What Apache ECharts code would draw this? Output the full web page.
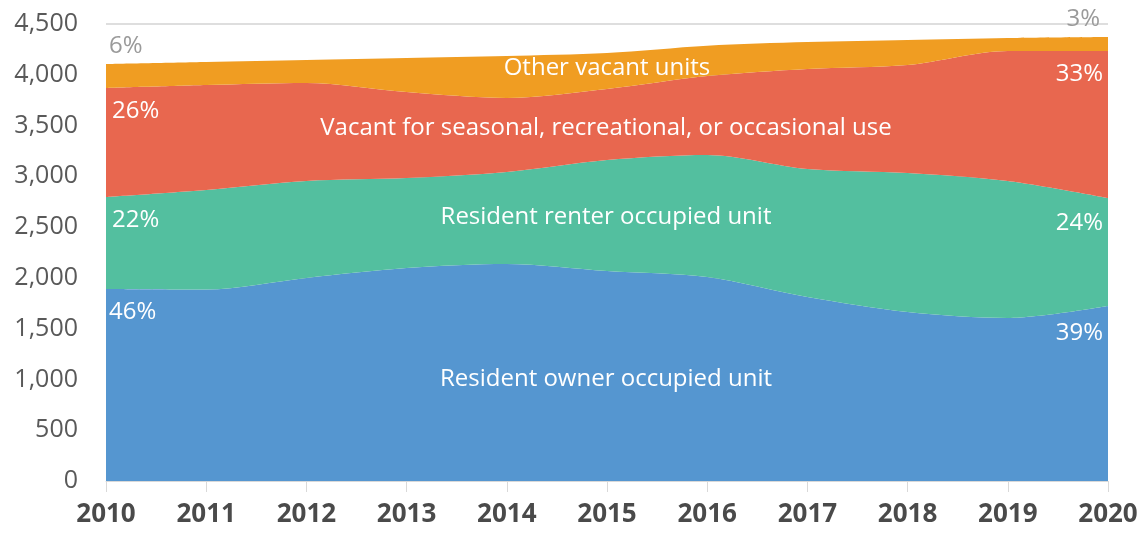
<!DOCTYPE html>
<html>
<head>
<meta charset="utf-8">
<script src="https://cdn.jsdelivr.net/npm/echarts@6/dist/echarts.min.js"></script>
<style>
  html, body { margin: 0; padding: 0; background: #fff; }
  #chart { width: 1146px; height: 536px; }
</style>
</head>
<body>
<div id="chart"></div>
<script>
const years = ["2010", "2011", "2012", "2013", "2014", "2015", "2016", "2017", "2018", "2019", "2020"];
const ownerUnits = [1890, 1885, 2000, 2097, 2137, 2068, 2009, 1812, 1664, 1605, 1723];
const renterUnits = [906, 980, 954, 886, 906, 1093, 1201, 1260, 1369, 1349, 1063];
const seasonalUnits = [1074, 1034, 965, 847, 728, 699, 778, 985, 1063, 1280, 1448];
const otherUnits = [236, 227, 226, 335, 414, 354, 298, 265, 246, 128, 138];

const seriesNames = [
  "Resident owner occupied unit",
  "Resident renter occupied unit",
  "Vacant for seasonal, recreational, or occasional use",
  "Other vacant units",
];
const colors = ["#5596d0", "#53bf9f", "#e8674f", "#f09d22"];

const startPct = ["46%", "22%", "26%", "6%"];
const endPct = ["39%", "24%", "33%", "3%"];

const chart = echarts.init(document.getElementById("chart"));

function areaSeries(name, data, color) {
  return {
    name: name,
    type: "line",
    stack: "total",
    smooth: 0.3,
    symbol: "none",
    lineStyle: { width: 0 },
    areaStyle: { color: color, opacity: 1 },
    data: data,
  };
}

const labelFont = "24px 'Open Sans'";
const pctFont = "24px 'Open Sans'";

// text placed at (x, y), vertically centred
function label(str, x, y, align, fill, font) {
  return {
    type: "text",
    z: 100,
    x: x,
    y: y,
    style: { text: str, fill: fill, font: font, textAlign: align, textVerticalAlign: "middle" },
  };
}

const graphics = [
  // series names
  label(seriesNames[3], 607, 68, "center", "#fff", labelFont),
  label(seriesNames[2], 606, 128, "center", "#fff", labelFont),
  label(seriesNames[1], 606, 217, "center", "#fff", labelFont),
  label(seriesNames[0], 606, 379, "center", "#fff", labelFont),
  // start percentages
  label(startPct[3], 109, 46, "left", "#9a9a9a", pctFont),
  label(startPct[2], 112, 111, "left", "#fff", pctFont),
  label(startPct[1], 112, 220, "left", "#fff", pctFont),
  label(startPct[0], 109, 312, "left", "#fff", pctFont),
  // end percentages
  label(endPct[3], 1100, 19, "right", "#9a9a9a", pctFont),
  label(endPct[2], 1103, 74, "right", "#fff", pctFont),
  label(endPct[1], 1103, 223, "right", "#fff", pctFont),
  label(endPct[0], 1103, 333, "right", "#fff", pctFont),
];

const option = {
  animation: false,
  backgroundColor: "#ffffff",
  grid: {
    left: 106,
    right: 38,
    top: 24,
    bottom: 55,
  },
  xAxis: {
    type: "category",
    data: years,
    boundaryGap: false,
    axisLine: { lineStyle: { color: "#d9d9d9" } },
    axisTick: { length: 11, lineStyle: { color: "#d9d9d9" } },
    axisLabel: {
      color: "#4a4a4a",
      fontFamily: "Open Sans",
      fontWeight: "bold",
      fontSize: 26,
      margin: 21,
    },
  },
  yAxis: {
    type: "value",
    min: 0,
    max: 4500,
    interval: 500,
    axisLine: { show: false },
    axisTick: { show: false },
    axisLabel: {
      color: "#595959",
      fontFamily: "Open Sans",
      fontSize: 25,
      margin: 28,
    },
    splitLine: { lineStyle: { color: "#dedede", width: 2 } },
  },
  series: [
    areaSeries(seriesNames[0], ownerUnits, colors[0]),
    areaSeries(seriesNames[1], renterUnits, colors[1]),
    areaSeries(seriesNames[2], seasonalUnits, colors[2]),
    areaSeries(seriesNames[3], otherUnits, colors[3]),
  ],
  graphic: graphics,
};

chart.setOption(option);
</script>
</body>
</html>
